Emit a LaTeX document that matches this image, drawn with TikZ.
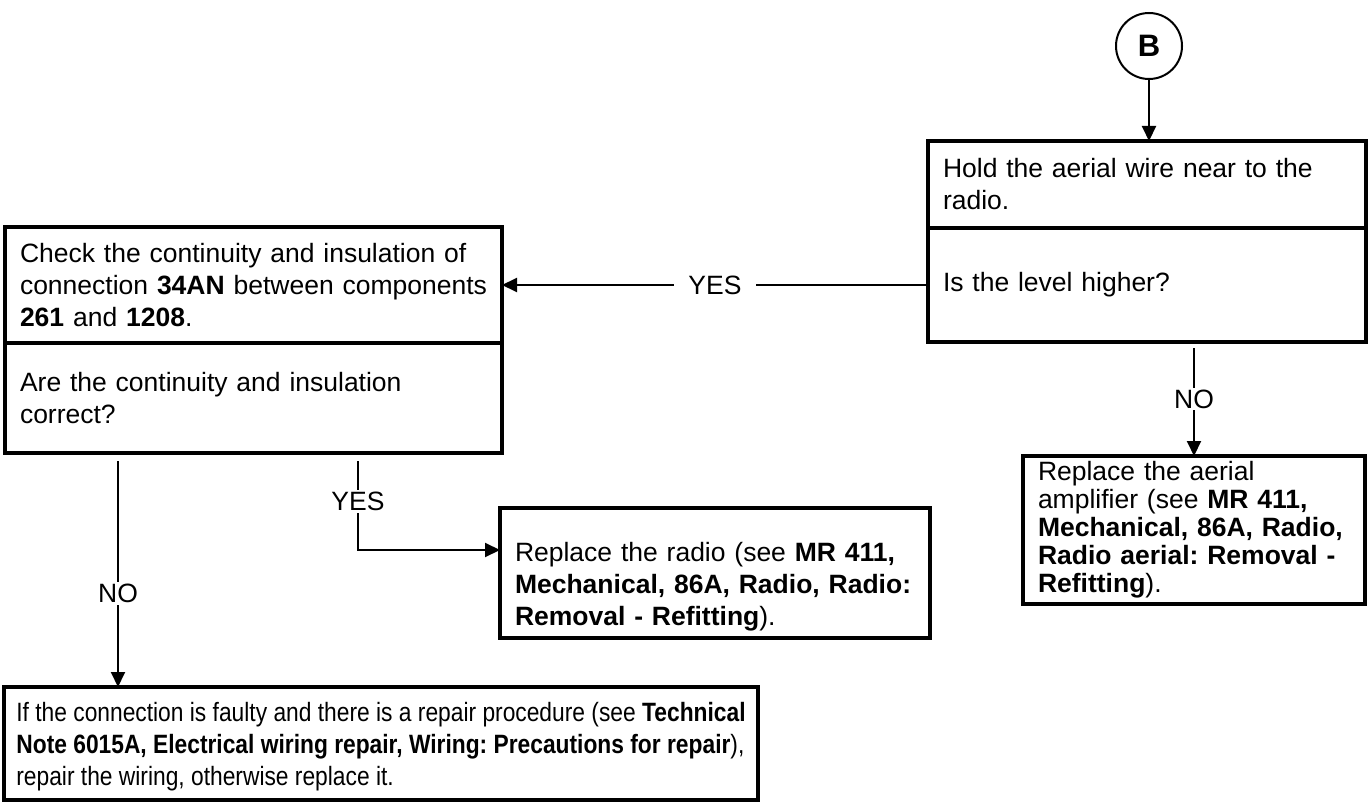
\documentclass[tikz,border=0pt]{standalone}
\usepackage{fontspec}
\setmainfont{Liberation Sans}
\usetikzlibrary{positioning, arrows.meta}
\frenchspacing
\tikzset{
every node/.style={font=\fontsize{26.5}{32}\selectfont}, % text size for the whole chart
}

\begin{document}
\begin{tikzpicture}[x=1pt, y=-1pt, box/.style = {draw, line width=3.5pt, outer sep=0pt, anchor=north west, align=left, inner xsep=15pt, inner ysep=0pt}, arrow/.style = {line width=2pt, -{Triangle[length=15pt, width=14pt]}}, lab/.style = {fill=white, inner sep=2pt}]
    % radio fault finding chart, entry at point B
    \useasboundingbox (0,0) rectangle (1371,805);
    \node[draw, circle, line width=2pt, minimum size=66pt, font=\fontsize{31}{32}\selectfont\bfseries] (b) at (1149,46) {B};
    \node[box, text width=408pt, minimum height=87pt] (hold) at (928,141) {Hold the aerial wire near to the\\radio.};
    \node[box, text width=408pt, minimum height=114pt] (level) at (hold.south west) {Is the level higher?};
    \node[box, text width=467pt, minimum height=116pt] (check) at (5,227) {Check the continuity and insulation of\\connection \textbf{34AN} between components\\\textbf{261} and \textbf{1208}.};
    \node[box, text width=467pt, minimum height=110pt] (correct) at (check.south west) {Are the continuity and insulation\\correct?};
    \node[box, text width=400pt, minimum height=130pt] (radio) at (500,508) {\rule{0pt}{46pt}Replace the radio (see \textbf{MR 411,}\\\textbf{Mechanical, 86A, Radio, Radio:}\\\textbf{Removal - Refitting}).};
    \node[box, text width=312pt, minimum height=148pt, font=\fontsize{26.5}{28}\selectfont] (amp) at (1023,456) {Replace the aerial\\amplifier (see \textbf{MR 411,}\\\textbf{Mechanical, 86A, Radio,}\\\textbf{Radio aerial: Removal -}\\\textbf{Refitting}).};
    \node[box, inner xsep=5pt, minimum width=754pt, minimum height=113pt, font=\fontsize{26.5}{32}\selectfont\addfontfeatures{FakeStretch=0.86}] (repair) at (4,687) {\rule{0pt}{26pt}If the connection is faulty and there is a repair procedure (see \textbf{Technical}\\\textbf{Note 6015A, Electrical wiring repair, Wiring: Precautions for repair}),\\repair the wiring, otherwise replace it.};

    \draw[arrow] (b.south) -- (b.south |- hold.north);
    \draw[arrow] (level.west) -- node[lab, inner xsep=14pt] {YES} (check.east);
    \draw[arrow, shorten <=6pt] (amp.north |- level.south) -- node[lab] {NO} (amp.north);
    \draw[arrow, shorten <=8pt] ([xshift=113pt]correct.south west) -- node[lab, pos=0.6] {NO} ([xshift=114pt]repair.north west);
    \draw[arrow, shorten <=8pt] ([xshift=353pt]correct.south west) |- node[lab, pos=0.25] {YES} ([yshift=-42pt]radio.north west);
\end{tikzpicture}
\end{document}
